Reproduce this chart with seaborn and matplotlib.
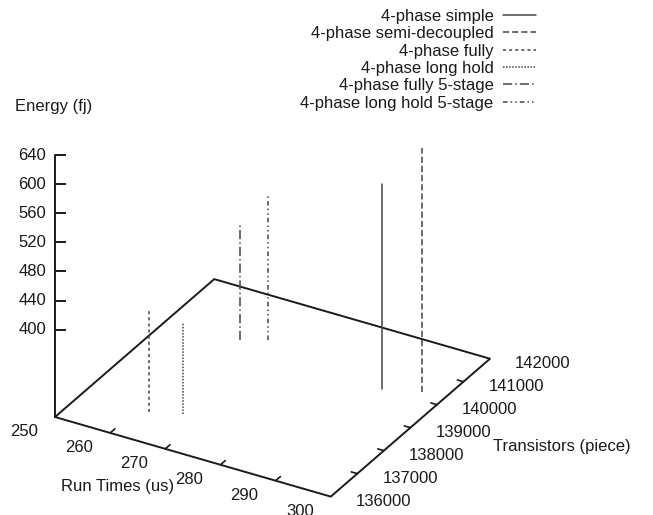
import numpy as np
import seaborn as sns
import matplotlib.pyplot as plt
from matplotlib.transforms import offset_copy
from mpl_toolkits.mplot3d import proj3d

# data (impulse foot on the base plane, top at the energy)
series = [
    "4-phase simple",
    "4-phase semi-decoupled",
    "4-phase fully",
    "4-phase long hold",
    "4-phase fully 5-stage",
    "4-phase long hold 5-stage",
]
run_times = [290, 296, 262, 267, 263, 267]
transistors = [140000, 140270, 137060, 137290, 140260, 140510]
energy = [561, 616, 418, 406, 440, 480]

x_ticks = [250, 260, 270, 280, 290, 300]
y_ticks = [136000, 137000, 138000, 139000, 140000, 141000, 142000]
z_ticks = [400, 440, 480, 520, 560, 600, 640]

styles = ["-", (0, (4, 2)), (0, (2, 2)), (0, (1, 1)), (0, (6, 2, 1, 2)), (0, (3, 2, 1, 2, 1, 2))]

sns.set_style("white")
plt.rcParams["font.family"] = ["Liberation Sans", "DejaVu Sans"]
plt.rcParams["font.size"] = 12
ink = "#1a1a1a"
plt.rcParams["text.color"] = ink

W, H = 653, 515
fig = plt.figure(figsize=(W / 100, H / 100), dpi=100)
side = 0.8
ax = fig.add_axes([0.1, 0.1, side, side * W / H], projection="3d")
ax.set_proj_type("ortho")
ax.view_init(elev=30, azim=-60)
ax.set_box_aspect((1, 1, 0.95))

x0, x1 = x_ticks[0], x_ticks[-1]
y0, y1 = y_ticks[0], y_ticks[-1]
z_base = 280  # gnuplot-like ticslevel: base plane below the lowest z tick
ax.set_xlim(x0, x1)
ax.set_ylim(y0, y1)
ax.set_zlim(z_base, z_ticks[-1])
ax.set_axis_off()

# base plane and z axis
ax.plot([x0, x1, x1, x0, x0], [y0, y0, y1, y1, y0], [z_base] * 5, color=ink, lw=1.4)
ax.plot([x0, x0], [y0, y0], [z_base, z_ticks[-1]], color=ink, lw=1.4)

# tick marks
for xt in x_ticks[1:-1]:
    ax.plot([xt, xt], [y0, y0 + 180], [z_base, z_base], color=ink, lw=1.2)
for yt in y_ticks[1:-1]:
    ax.plot([x1, x1 - 1.1], [yt, yt], [z_base, z_base], color=ink, lw=1.2)
ax.plot([x0] * len(z_ticks), [y0] * len(z_ticks), z_ticks, ls="none",
        marker=1, ms=8, mew=1.4, color=ink)

# impulses
handles = []
for name, x, y, z, ls in zip(series, run_times, transistors, energy, styles):
    h, = ax.plot([x, x], [y, y], [z_base, z], color="#444444", lw=1.1, ls=ls, label=name)
    handles.append(h)

# fit the 3D box onto the reference frame
fig.canvas.draw()


def to_px(x, y, z):
    xs, ys, _ = proj3d.proj_transform(x, y, z, ax.get_proj())
    return ax.transData.transform((xs, ys))


a = to_px(x0, y0, z_base)
b = to_px(x1, y1, z_base)
ta = np.array([55, H - 417])
tb = np.array([490, H - 362])
k = (tb[0] - ta[0]) / (b[0] - a[0])
bb = ax.get_position()
c = np.array([(bb.x0 + bb.x1) / 2 * W, (bb.y0 + bb.y1) / 2 * H])
c_new = ta - k * (a - c)
w, h = bb.width * k, bb.height * k
ax.set_position([c_new[0] / W - w / 2, c_new[1] / H - h / 2, w, h])

# tick labels
tx = offset_copy(ax.transData, fig=fig, x=-31, y=-15, units="dots")
for xt in x_ticks:
    ax.text(xt, y0, z_base, str(xt), transform=tx, ha="center", va="center", fontsize=12)
ty = offset_copy(ax.transData, fig=fig, x=25, y=-5, units="dots")
for yt in y_ticks:
    ax.text(x1, yt, z_base, str(yt), transform=ty, ha="left", va="center", fontsize=12)
tz = offset_copy(ax.transData, fig=fig, x=-9, y=0, units="dots")
for zt in z_ticks:
    ax.text(x0, y0, zt, str(zt), transform=tz, ha="right", va="center", fontsize=12)

# axis titles
fig.text(15 / W, 1 - 107 / H, "Energy (fj)", ha="left", va="center", fontsize=12)
fig.text(118 / W, 1 - 487 / H, "Run Times (us)", ha="center", va="center", fontsize=12)
fig.text(493 / W, 1 - 447 / H, "Transistors (piece)", ha="left", va="center", fontsize=12)

fig.legend(handles=handles, loc="upper right", bbox_to_anchor=(536 / W, 1 - 9 / H),
           frameon=False, markerfirst=False, handlelength=2.0, handletextpad=0.55,
           labelspacing=0.14, borderpad=0, borderaxespad=0, fontsize=12)

fig.savefig("out.png", dpi=100)
